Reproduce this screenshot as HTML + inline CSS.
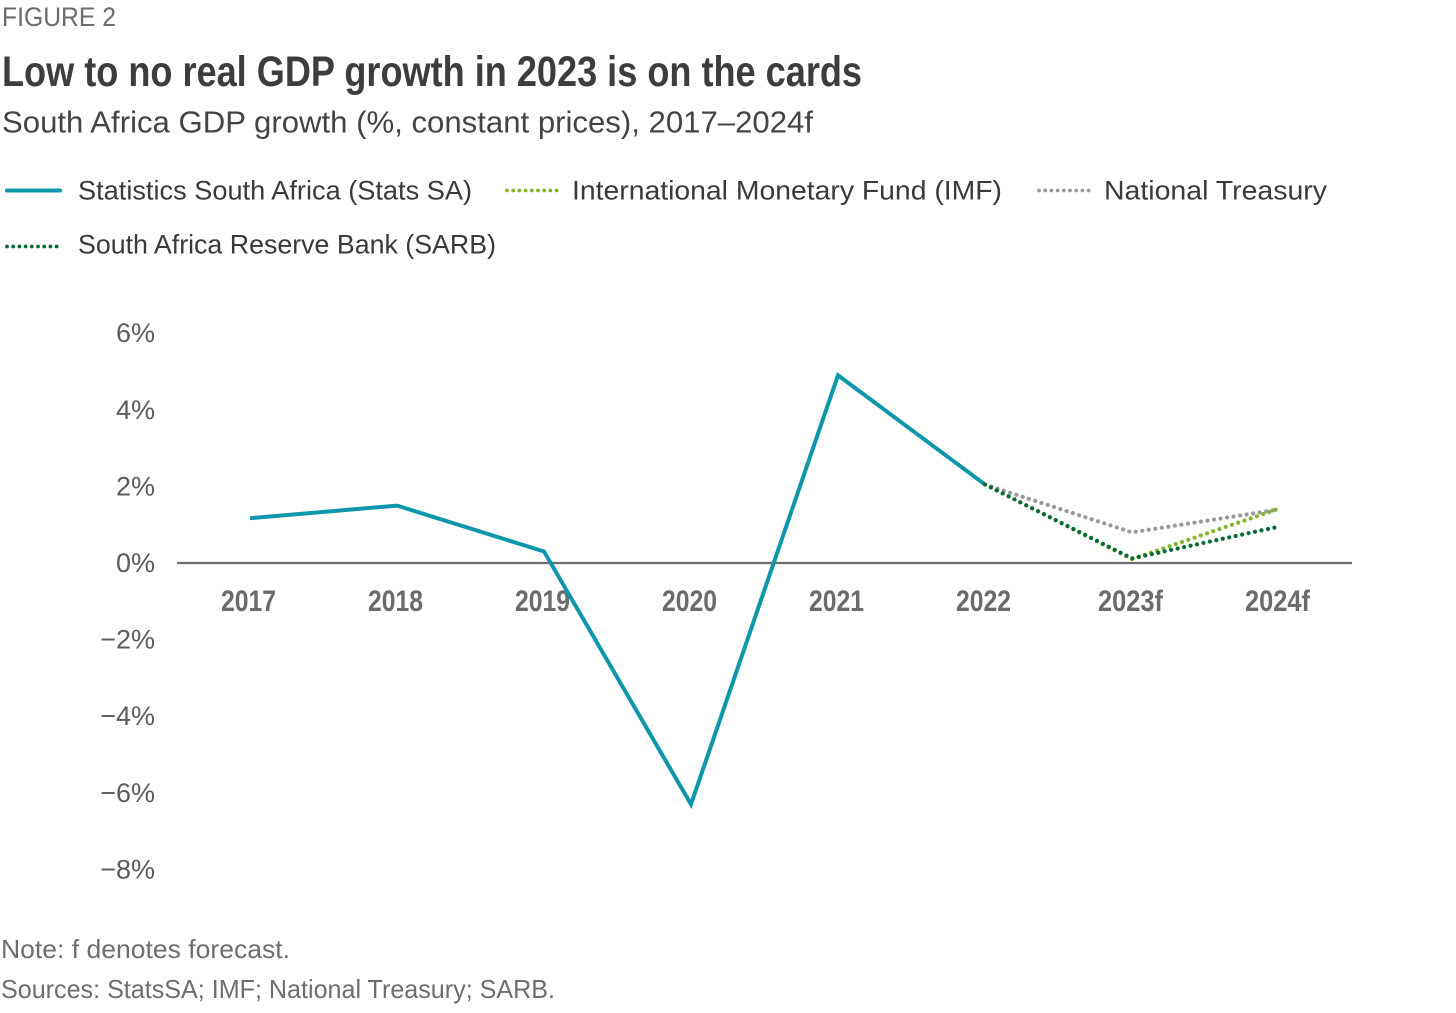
<!DOCTYPE html>
<html lang="en">
<head>
<meta charset="utf-8">
<title>Figure 2</title>
<style>
html,body{margin:0;padding:0;background:#fff;width:1456px;height:1013px;overflow:hidden}
svg{display:block}
text{font-family:"Liberation Sans",sans-serif}
</style>
</head>
<body>
<svg id="chart" xmlns="http://www.w3.org/2000/svg" width="1456" height="1013" viewBox="0 0 1456 1013">
  <text x="2" y="26" font-size="27" fill="#6b6b6b" textLength="114" lengthAdjust="spacingAndGlyphs">FIGURE 2</text>
  <text x="2" y="86" font-size="43" font-weight="700" fill="#3d3d3d" textLength="860" lengthAdjust="spacingAndGlyphs">Low to no real GDP growth in 2023 is on the cards</text>
  <text x="2" y="132.5" font-size="31" fill="#444444" textLength="811" lengthAdjust="spacingAndGlyphs">South Africa GDP growth (%, constant prices), 2017–2024f</text>

  <g>
    <line x1="7" y1="190.5" x2="60" y2="190.5" stroke="#0e97ab" stroke-width="4" stroke-linecap="round"/>
    <text x="78" y="199.5" font-size="27" fill="#3a3a3a" textLength="394" lengthAdjust="spacingAndGlyphs">Statistics South Africa (Stats SA)</text>
    <line x1="507" y1="190.5" x2="557" y2="190.5" stroke="#86b52a" stroke-width="3.8" stroke-linecap="round" stroke-dasharray="0 6.2"/>
    <text x="572" y="199.5" font-size="27" fill="#3a3a3a" textLength="430" lengthAdjust="spacingAndGlyphs">International Monetary Fund (IMF)</text>
    <line x1="1039" y1="190.5" x2="1089" y2="190.5" stroke="#97999b" stroke-width="3.8" stroke-linecap="round" stroke-dasharray="0 6.2"/>
    <text x="1104" y="199.5" font-size="27" fill="#3a3a3a" textLength="223" lengthAdjust="spacingAndGlyphs">National Treasury</text>
    <line x1="7" y1="246.5" x2="57" y2="246.5" stroke="#046a38" stroke-width="3.8" stroke-linecap="round" stroke-dasharray="0 6.2"/>
    <text x="78" y="253.5" font-size="27" fill="#3a3a3a" textLength="418" lengthAdjust="spacingAndGlyphs">South Africa Reserve Bank (SARB)</text>
  </g>

  <g id="y-axis"></g>
  <g id="x-axis"></g>
  <g id="series"></g>

  <text x="1" y="958" font-size="26" fill="#6e6e6e" textLength="289" lengthAdjust="spacingAndGlyphs">Note: f denotes forecast.</text>
  <text x="1" y="998" font-size="26" fill="#6e6e6e" textLength="554" lengthAdjust="spacingAndGlyphs">Sources: StatsSA; IMF; National Treasury; SARB.</text>
</svg>
<script>
const categories = ['2017','2018','2019','2020','2021','2022','2023f','2024f'];
const yTicks = [6,4,2,0,-2,-4,-6,-8];
const statsSA = [1.17,1.5,0.3,-6.3,4.9,2.05,null,null];
const imf = [null,null,null,null,null,2.05,0.1,1.42];
const treasury = [null,null,null,null,null,2.05,0.8,1.4];
const sarb = [null,null,null,null,null,2.05,0.12,0.95];

const NS = 'http://www.w3.org/2000/svg';
function xScale(i){ return 250 + i * 147; }
function yScale(v){ return 563 - v * 38.3; }
function pathFor(values){
  const pts = [];
  values.forEach(function(v,i){ if(v !== null){ pts.push(xScale(i).toFixed(1)+','+yScale(v).toFixed(1)); } });
  return pts.join(' ');
}

const yAxis = document.getElementById('y-axis');
yTicks.forEach(function(t){
  const el = document.createElementNS(NS,'text');
  
  
  el.setAttribute('x', 155);
  el.setAttribute('y', yScale(t) + 9);
  el.setAttribute('text-anchor', 'end');
  el.setAttribute('font-size', '27');
  el.setAttribute('fill', '#5c5c5c');
  el.textContent = (t < 0 ? '\u2212' : '') + Math.abs(t) + '%';
  yAxis.appendChild(el);
});

const xAxis = document.getElementById('x-axis');
const axisLine = document.createElementNS(NS,'line');


axisLine.setAttribute('x1', 177);
axisLine.setAttribute('x2', 1352);
axisLine.setAttribute('y1', yScale(0));
axisLine.setAttribute('y2', yScale(0));
axisLine.setAttribute('stroke', '#6d6d72');
axisLine.setAttribute('stroke-width', '2.2');
xAxis.appendChild(axisLine);

categories.forEach(function(c,i){
  const el = document.createElementNS(NS,'text');
  
  
  el.setAttribute('x', xScale(i) - 1.5);
  el.setAttribute('y', 611);
  el.setAttribute('text-anchor', 'middle');
  el.setAttribute('font-size', '30');
  el.setAttribute('font-weight', '700');
  el.setAttribute('fill', '#6b6b6b');
  el.setAttribute('textLength', c.length === 4 ? 55 : 65);
  el.setAttribute('lengthAdjust', 'spacingAndGlyphs');
  el.textContent = c;
  xAxis.appendChild(el);
});

const seriesGroup = document.getElementById('series');
function drawSeries(values, color, dotted, name){
  const el = document.createElementNS(NS,'polyline');
  
  
  el.setAttribute('points', pathFor(values));
  el.setAttribute('fill', 'none');
  el.setAttribute('stroke', color);
  el.setAttribute('stroke-linejoin', 'miter');
  if(dotted){
    el.setAttribute('stroke-width', '4.2');
    el.setAttribute('stroke-linecap', 'round');
    el.setAttribute('stroke-dasharray', '0 6.6');
  } else {
    el.setAttribute('stroke-width', '4');
  }
  seriesGroup.appendChild(el);
}
drawSeries(statsSA, '#0e97ab', false, 'line-stats-sa');
drawSeries(treasury, '#97999b', true, 'line-national-treasury');
drawSeries(imf, '#86b52a', true, 'line-imf');
drawSeries(sarb, '#046a38', true, 'line-sarb');
</script>
</body>
</html>
